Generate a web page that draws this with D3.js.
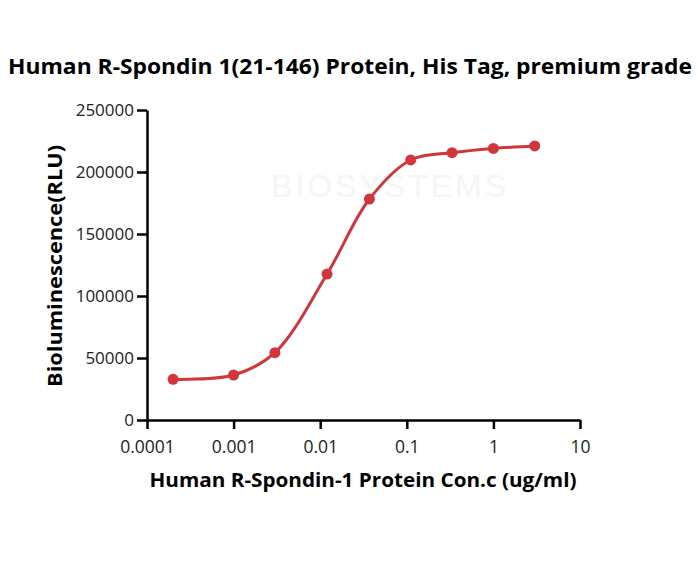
<!DOCTYPE html>
<html><head><meta charset="utf-8">
<script src="https://cdn.jsdelivr.net/npm/d3@7"></script>
<style>body{margin:0;background:#fff}svg{display:block}</style>
</head><body>
<svg id="c" width="700" height="565"></svg>
<script>
const title = "Human R-Spondin 1(21-146) Protein, His Tag, premium grade";
const xLabel = "Human R-Spondin-1 Protein Con.c (ug/ml)";
const yLabel = "Bioluminescence(RLU)";
const concentrations = [0.0002, 0.001, 0.003, 0.012, 0.037, 0.111, 0.333, 1, 3];
const rlu = [32800, 36300, 54300, 117700, 178200, 209700, 215600, 219000, 221000];
const xTicks = [0.0001, 0.001, 0.01, 0.1, 1, 10];
const xTickLabels = ["0.0001", "0.001", "0.01", "0.1", "1", "10"];
const yTicks = [0, 50000, 100000, 150000, 200000, 250000];

const svg = d3.select("#c");
const font = "'Open Sans', 'Noto Sans', sans-serif";
const red = "#d1363b";

const x = d3.scaleLog().domain([0.0001, 10]).range([147, 580]);
const y = d3.scaleLinear().domain([0, 250000]).range([420, 110]);

// faint watermark
svg.append("text").attr("x", 390).attr("y", 197).attr("text-anchor", "middle")
  .attr("font-family", "'Liberation Sans', sans-serif").attr("font-size", 32)
  .attr("fill", "#f5f5f5").attr("letter-spacing", 3).text("BIOSYSTEMS");

// title
svg.append("text").attr("x", 350).attr("y", 74).attr("text-anchor", "middle")
  .attr("font-family", font).attr("font-weight", "bold").attr("font-size", 21)
  .attr("textLength", 684).attr("lengthAdjust", "spacingAndGlyphs")
  .attr("fill", "#000").text(title);

// axes
const xAxis = d3.axisBottom(x).tickValues(xTicks)
  .tickFormat((d, i) => xTickLabels[i]).tickSize(9).tickSizeOuter(0);
const gx = svg.append("g").attr("transform", "translate(0,420)").call(xAxis);
gx.select(".domain").attr("stroke", "#000").attr("stroke-width", 2.5);
gx.selectAll(".tick line").attr("stroke", "#000").attr("stroke-width", 2.5);
gx.selectAll(".tick text").attr("font-family", font).attr("font-size", 17.5)
  .attr("fill", "#222").attr("dy", 0).attr("y", 33);

const yAxis = d3.axisLeft(y).tickValues(yTicks).tickFormat(d3.format("d"))
  .tickSize(10).tickSizeOuter(0);
const gy = svg.append("g").attr("transform", "translate(147,0)").call(yAxis);
gy.select(".domain").attr("stroke", "#000").attr("stroke-width", 2.5);
gy.selectAll(".tick line").attr("stroke", "#000").attr("stroke-width", 2.5);
gy.selectAll(".tick text").attr("font-family", font).attr("font-size", 17)
  .attr("fill", "#222").attr("x", -13);

// axis labels
svg.append("text").attr("x", 363).attr("y", 487).attr("text-anchor", "middle")
  .attr("font-family", font).attr("font-weight", "bold").attr("font-size", 19)
  .attr("textLength", 427).attr("lengthAdjust", "spacingAndGlyphs")
  .attr("fill", "#000").text(xLabel);
svg.append("text").attr("transform", "translate(62,266) rotate(-90)")
  .attr("text-anchor", "middle")
  .attr("font-family", font).attr("font-weight", "bold").attr("font-size", 19)
  .attr("textLength", 242).attr("lengthAdjust", "spacingAndGlyphs")
  .attr("fill", "#000").text(yLabel);

// curve & points
const pts = concentrations.map((c, i) => [x(c), y(rlu[i])]);
svg.append("path").attr("d", d3.line().curve(d3.curveCatmullRom.alpha(0.5))(pts))
  .attr("fill", "none").attr("stroke", red).attr("stroke-width", 3);
svg.append("g").selectAll("circle").data(pts).join("circle")
  .attr("cx", d => d[0]).attr("cy", d => d[1]).attr("r", 5.5).attr("fill", red);
</script>
</body></html>
